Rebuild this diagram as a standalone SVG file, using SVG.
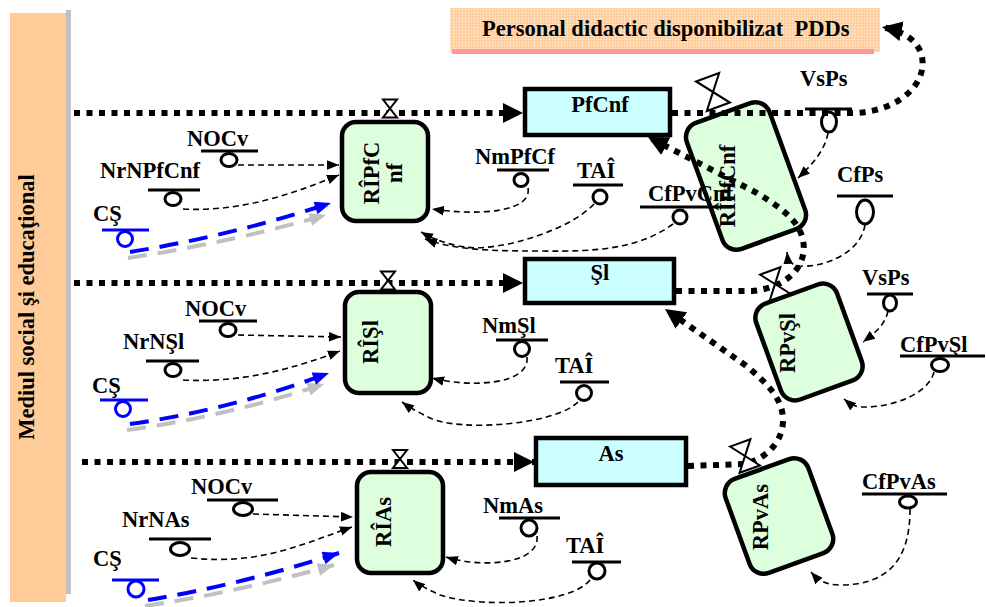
<svg xmlns="http://www.w3.org/2000/svg" width="986" height="607" viewBox="0 0 986 607">
<style>
.t{font-family:"Liberation Serif","Times New Roman",serif;font-weight:bold;font-size:22.5px;fill:#000}
.m{text-anchor:middle}
.stock{fill:#CCFFFF;stroke:#000;stroke-width:4.5}
.rate{fill:#DDFFDD;stroke:#000;stroke-width:4.5}
.flow{fill:none;stroke:#000;stroke-width:6;stroke-dasharray:6 6.5}
.info{fill:none;stroke:#000;stroke-width:1.6;stroke-dasharray:6 4;marker-end:url(#ah)}
.bar{stroke:#000;stroke-width:3}
.bbar{stroke:#0000FF;stroke-width:3}
.aux{fill:#fff;stroke:#000;stroke-width:3}
.baux{fill:#fff;stroke:#0000FF;stroke-width:3}
.valve{fill:#fff;stroke:#000;stroke-width:2}
.blue{fill:none;stroke:#0000FF;stroke-width:4;stroke-dasharray:19 11;marker-end:url(#ab)}
.gray{fill:none;stroke:#C0C0C0;stroke-width:4;stroke-dasharray:19 11;marker-end:url(#ag)}
</style>
<defs>
<pattern id="grid" width="3" height="3" patternUnits="userSpaceOnUse"><rect width="3" height="3" fill="#FFCC99"/><path d="M0,0.5 H3 M0.5,0 V3" stroke="#FFDDBB" stroke-width="1"/></pattern>
<marker id="ah" viewBox="0 0 10 8" refX="10" refY="4" markerWidth="12" markerHeight="10" markerUnits="userSpaceOnUse" orient="auto"><path d="M0,0 L10,4 L0,8 Z" fill="#000"/></marker>
<marker id="af" viewBox="0 0 10 10" refX="10" refY="5" markerWidth="20" markerHeight="20" markerUnits="userSpaceOnUse" orient="auto"><path d="M0,0 L10,5 L0,10 Z" fill="#000"/></marker>
<marker id="ab" viewBox="0 0 10 8" refX="10" refY="4" markerWidth="17" markerHeight="13" markerUnits="userSpaceOnUse" orient="auto"><path d="M0,0 L10,4 L0,8 Z" fill="#0000FF"/></marker>
<marker id="ag" viewBox="0 0 10 8" refX="10" refY="4" markerWidth="17" markerHeight="13" markerUnits="userSpaceOnUse" orient="auto"><path d="M0,0 L10,4 L0,8 Z" fill="#C0C0C0"/></marker>
<path id="vv" d="M-7,-9 L7,-9 L-7,9 L7,9 Z"/>
</defs>

<g id="mediu">
<rect x="10" y="13" width="56" height="589" fill="#FFCC99"/>
<rect x="66" y="10" width="5" height="584" fill="#C0C0C0"/>
<text class="t m" transform="translate(34,307) rotate(-90)">Mediul social şi educaţional</text>
</g>

<g id="PDDs">
<rect x="450" y="8" width="430" height="44" fill="url(#grid)"/>
<rect x="452" y="49" width="422" height="5" fill="#FF9999"/>
<text class="t" x="482" y="36" style="white-space:pre">Personal didactic disponibilizat  PDDs</text>
</g>

<g id="PfCnf"><rect class="stock" x="525" y="89" width="145" height="46"/><text class="t m" x="600" y="112">PfCnf</text></g>
<g id="Sl"><rect class="stock" x="525" y="259" width="149" height="44"/><text class="t m" x="600" y="280">Şl</text></g>
<g id="As"><rect class="stock" x="536" y="438" width="150" height="47"/><text class="t m" x="611" y="461">As</text></g>

<g id="RIPfCnf"><rect class="rate" x="342" y="122" width="86" height="99" rx="14"/><text class="t m" transform="translate(379,173) rotate(-90)">RÎPfC</text><text class="t m" transform="translate(402,173) rotate(-90)">nf</text></g>
<g id="RISl"><rect class="rate" x="345" y="292" width="86" height="101" rx="14"/><text class="t m" transform="translate(378,342) rotate(-90)">RÎŞl</text></g>
<g id="RIAs"><rect class="rate" x="357" y="472" width="86" height="101" rx="14"/><text class="t m" transform="translate(391,522) rotate(-90)">RÎAs</text></g>

<g id="RIPfCnf2"><rect class="rate" x="-44" y="-67" width="88" height="134" rx="15" transform="translate(746,176) rotate(-20)"/><text class="t m" transform="translate(735,186) rotate(-90)">RÎPfCnf</text></g>
<g id="RPvSl"><rect class="rate" x="-43" y="-51" width="86" height="102" rx="15" transform="translate(809,342) rotate(-20)"/><text class="t m" transform="translate(795,343) rotate(-90)">RPvŞl</text></g>
<g id="RPvAs"><rect class="rate" x="-44" y="-50" width="88" height="100" rx="15" transform="translate(779,516) rotate(-20)"/><text class="t m" transform="translate(768,517) rotate(-90)">RPvAs</text></g>

<!-- auxiliaries row 1 -->
<g id="NOCv1"><text class="t" x="187" y="146">NOCv</text><line class="bar" x1="201" y1="151" x2="258" y2="151"/><ellipse class="aux" cx="229" cy="160" rx="8" ry="6.5"/></g>
<g id="NrNPfCnf"><text class="t" x="100" y="178">NrNPfCnf</text><line class="bar" x1="148" y1="190" x2="200" y2="190"/><ellipse class="aux" cx="173" cy="199" rx="8" ry="6.5"/></g>
<g id="CS1"><text class="t" x="93" y="221">CŞ</text><line class="bbar" x1="102" y1="230" x2="149" y2="230"/><circle class="baux" cx="125" cy="239" r="7.5"/></g>
<g id="NmPfCf"><text class="t" x="475" y="164">NmPfCf</text><line class="bar" x1="497" y1="170" x2="549" y2="170"/><ellipse class="aux" cx="521" cy="180" rx="7" ry="6.5"/></g>
<g id="TAI1"><text class="t" x="577" y="178">TAÎ</text><line class="bar" x1="573" y1="185" x2="623" y2="185"/><circle class="aux" cx="600" cy="197" r="7"/></g>
<g id="CfPvCnf"><text class="t" x="648" y="201">CfPvCnf</text><line class="bar" x1="640" y1="207" x2="732" y2="207"/><circle class="aux" cx="680" cy="217" r="7"/></g>
<g id="VsPs1"><text class="t" x="800" y="86">VsPs</text><line class="bar" x1="805" y1="109" x2="852" y2="109"/><ellipse class="aux" cx="829" cy="122" rx="7.5" ry="10"/></g>
<g id="CfPs"><text class="t" x="837" y="182">CfPs</text><line class="bar" x1="837" y1="196" x2="893" y2="196"/><ellipse class="aux" cx="865" cy="212" rx="8.5" ry="12"/></g>

<!-- auxiliaries row 2 -->
<g id="NOCv2"><text class="t" x="185" y="316">NOCv</text><line class="bar" x1="199" y1="321" x2="257" y2="321"/><ellipse class="aux" cx="228" cy="330" rx="8" ry="6.5"/></g>
<g id="NrNSl"><text class="t" x="123" y="349">NrNŞl</text><line class="bar" x1="146" y1="361" x2="199" y2="361"/><ellipse class="aux" cx="173" cy="370" rx="8" ry="6.5"/></g>
<g id="CS2"><text class="t" x="92" y="393">CŞ</text><line class="bbar" x1="100" y1="400" x2="148" y2="400"/><circle class="baux" cx="123" cy="409" r="7.5"/></g>
<g id="NmSl"><text class="t" x="482" y="333">NmŞl</text><line class="bar" x1="496" y1="340" x2="548" y2="340"/><circle class="aux" cx="522" cy="349" r="7.5"/></g>
<g id="TAI2"><text class="t" x="555" y="373">TAÎ</text><line class="bar" x1="560" y1="382" x2="609" y2="382"/><circle class="aux" cx="584" cy="393" r="7.5"/></g>
<g id="VsPs2"><text class="t" x="862" y="285">VsPs</text><line class="bar" x1="867" y1="294" x2="913" y2="294"/><ellipse class="aux" cx="890" cy="303" rx="6.5" ry="8"/></g>
<g id="CfPvSl"><text class="t" x="900" y="352">CfPvŞl</text><line class="bar" x1="900" y1="356" x2="985" y2="356"/><ellipse class="aux" cx="940" cy="365" rx="8.5" ry="6.5"/></g>

<!-- auxiliaries row 3 -->
<g id="NOCv3"><text class="t" x="191" y="494">NOCv</text><line class="bar" x1="207" y1="500" x2="278" y2="500"/><ellipse class="aux" cx="243" cy="509" rx="9.5" ry="6.5"/></g>
<g id="NrNAs"><text class="t" x="122" y="527">NrNAs</text><line class="bar" x1="149" y1="539" x2="211" y2="539"/><ellipse class="aux" cx="180" cy="549" rx="9.5" ry="6.5"/></g>
<g id="CS3"><text class="t" x="93" y="566">CŞ</text><line class="bbar" x1="112" y1="580" x2="159" y2="580"/><circle class="baux" cx="136" cy="589" r="8"/></g>
<g id="NmAs"><text class="t" x="483" y="513">NmAs</text><line class="bar" x1="499" y1="518" x2="560" y2="518"/><circle class="aux" cx="529" cy="528" r="8"/></g>
<g id="TAI3"><text class="t" x="566" y="553">TAÎ</text><line class="bar" x1="572" y1="562" x2="621" y2="562"/><circle class="aux" cx="597" cy="571" r="8"/></g>
<g id="CfPvAs"><text class="t" x="862" y="489">CfPvAs</text><line class="bar" x1="862" y1="494" x2="947" y2="494"/><ellipse class="aux" cx="908" cy="502" rx="8.5" ry="6"/></g>

<g id="connectors">
<!-- flows -->
<path class="flow" marker-end="url(#af)" d="M74,113 L523,113"/>
<path class="flow" marker-end="url(#af)" d="M74,283 L523,283"/>
<path class="flow" marker-end="url(#af)" d="M82,462 L534,462"/>
<path class="flow" marker-end="url(#af)" d="M672,113 L855,113 C900,111 930,82 921,53 C916,40 905,32 882,27"/>
<path class="flow" marker-end="url(#af)" d="M676,291 L752,291 C788,288 808,265 803,240 C799,222 785,210 757,193 L648,137"/>
<path class="flow" marker-end="url(#af)" d="M688,466 L745,464 C768,458 784,440 783,418 C782,400 770,385 745,365 L665,309"/>
<!-- info links row 1 -->
<path class="info" d="M238,165 L339,165"/>
<path class="info" d="M183,209 C240,212 290,195 339,175"/>
<path class="gray" d="M128,258 Q228,243 326,215"/>
<path class="blue" d="M130,252 Q230,236 331,203"/>
<path class="info" d="M528,188 C532,212 480,216 432,209"/>
<path class="info" d="M594,204 C570,230 500,252 465,247 C450,245 435,240 421,232"/>
<path class="info" d="M673,224 C640,248 600,252 540,251 C490,251 455,250 425,239"/>
<path class="info" d="M828,133 C825,150 812,165 798,178"/>
<path class="info" d="M865,225 C860,255 820,268 800,266 C792,265 788,262 787,252"/>
<!-- info links row 2 -->
<path class="info" d="M238,335 L341,337"/>
<path class="info" d="M183,380 C240,383 290,370 340,351"/>
<path class="gray" d="M127,430 Q228,416 324,384"/>
<path class="blue" d="M130,424 Q230,410 329,373"/>
<path class="info" d="M527,357 C530,385 470,388 432,378"/>
<path class="info" d="M578,402 C555,425 460,432 430,418 C420,413 410,408 402,402"/>
<path class="info" d="M888,311 C885,325 875,333 863,342"/>
<path class="info" d="M934,372 C928,395 890,408 862,407 C855,407 850,404 844,399"/>
<!-- info links row 3 -->
<path class="info" d="M253,514 L353,517"/>
<path class="info" d="M191,558 C260,565 300,545 352,527"/>
<path class="gray" d="M145,606 Q238,592 334,565"/>
<path class="blue" d="M148,600 Q240,585 339,553"/>
<path class="info" d="M537,536 C540,565 480,568 446,557"/>
<path class="info" d="M590,580 C570,605 480,608 440,595 C430,590 420,586 413,580"/>
<path class="info" d="M910,509 C910,545 900,585 840,585 C825,585 818,580 811,572"/>
</g>

<g id="valves">
<use href="#vv" class="valve" transform="translate(390,108.5)"/>
<use href="#vv" class="valve" transform="translate(388,280.5)"/>
<use href="#vv" class="valve" transform="translate(400,459)"/>
<use href="#vv" class="valve" style="stroke-width:1.2" transform="translate(713,92) rotate(-20) scale(1.75)"/>
<use href="#vv" class="valve" style="stroke-width:1.3" transform="translate(775,284) rotate(-20) scale(1.55)"/>
<use href="#vv" class="valve" style="stroke-width:1.3" transform="translate(745,456) rotate(-20) scale(1.55)"/>
</g>
</svg>
